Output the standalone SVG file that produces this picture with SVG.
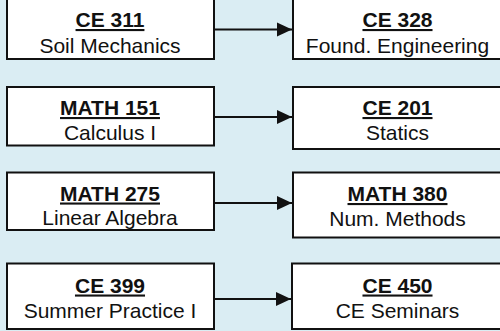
<svg xmlns="http://www.w3.org/2000/svg" width="500" height="331" viewBox="0 0 500 331">
<defs>
<style>
.box{fill:#fff;stroke:#111;stroke-width:2}
.t{font-family:"Liberation Sans",Arial,sans-serif;font-size:21px;text-anchor:middle;fill:#111}
.h{font-weight:bold;text-decoration:underline}
.c{stroke:#111;stroke-width:2;fill:none}
</style>
<marker id="ah" markerUnits="userSpaceOnUse" markerWidth="16" markerHeight="16" viewBox="0 0 16 16" refX="15" refY="8" orient="auto">
<path d="M0,1 L15,8 L0,15 Z" fill="#111"/>
</marker>
</defs>
<rect x="0" y="0" width="500" height="331" fill="#daedf3"/>
<g id="connectors">
<line class="c" x1="214" y1="29.5" x2="292" y2="29.5" marker-end="url(#ah)"/>
<line class="c" x1="214" y1="117" x2="292" y2="117" marker-end="url(#ah)"/>
<line class="c" x1="214" y1="203" x2="292" y2="203" marker-end="url(#ah)"/>
<line class="c" x1="214" y1="299" x2="291" y2="299" marker-end="url(#ah)"/>
</g>
<g id="ce311">
<rect class="box" x="7" y="-2" width="207" height="61"/>
<text class="t h" x="110" y="27">CE 311</text>
<text class="t" x="110" y="52.5">Soil Mechanics</text>
</g>
<g id="ce328">
<rect class="box" x="293" y="-2" width="212" height="61"/>
<text class="t h" x="397.5" y="27">CE 328</text>
<text class="t" x="397.5" y="52.5">Found. Engineering</text>
</g>
<g id="math151">
<rect class="box" x="7" y="87" width="207" height="58.5"/>
<text class="t h" x="110" y="115">MATH 151</text>
<text class="t" x="110" y="140">Calculus I</text>
</g>
<g id="ce201">
<rect class="box" x="293" y="87" width="212" height="62"/>
<text class="t h" x="397.5" y="115">CE 201</text>
<text class="t" x="397.5" y="139.5">Statics</text>
</g>
<g id="math275">
<rect class="box" x="7" y="172.5" width="207" height="57.5"/>
<text class="t h" x="110" y="200.5">MATH 275</text>
<text class="t" x="110" y="225">Linear Algebra</text>
</g>
<g id="math380">
<rect class="box" x="293" y="172.5" width="212" height="65"/>
<text class="t h" x="397.5" y="201">MATH 380</text>
<text class="t" x="397.5" y="225.5">Num. Methods</text>
</g>
<g id="ce399">
<rect class="box" x="7" y="263.5" width="207" height="65.5"/>
<text class="t h" x="110" y="292.5">CE 399</text>
<text class="t" x="110" y="317.5">Summer Practice I</text>
</g>
<g id="ce450">
<rect class="box" x="292" y="263.5" width="213" height="65.5"/>
<text class="t h" x="397.5" y="292.5">CE 450</text>
<text class="t" x="397.5" y="317.5">CE Seminars</text>
</g>
</svg>
